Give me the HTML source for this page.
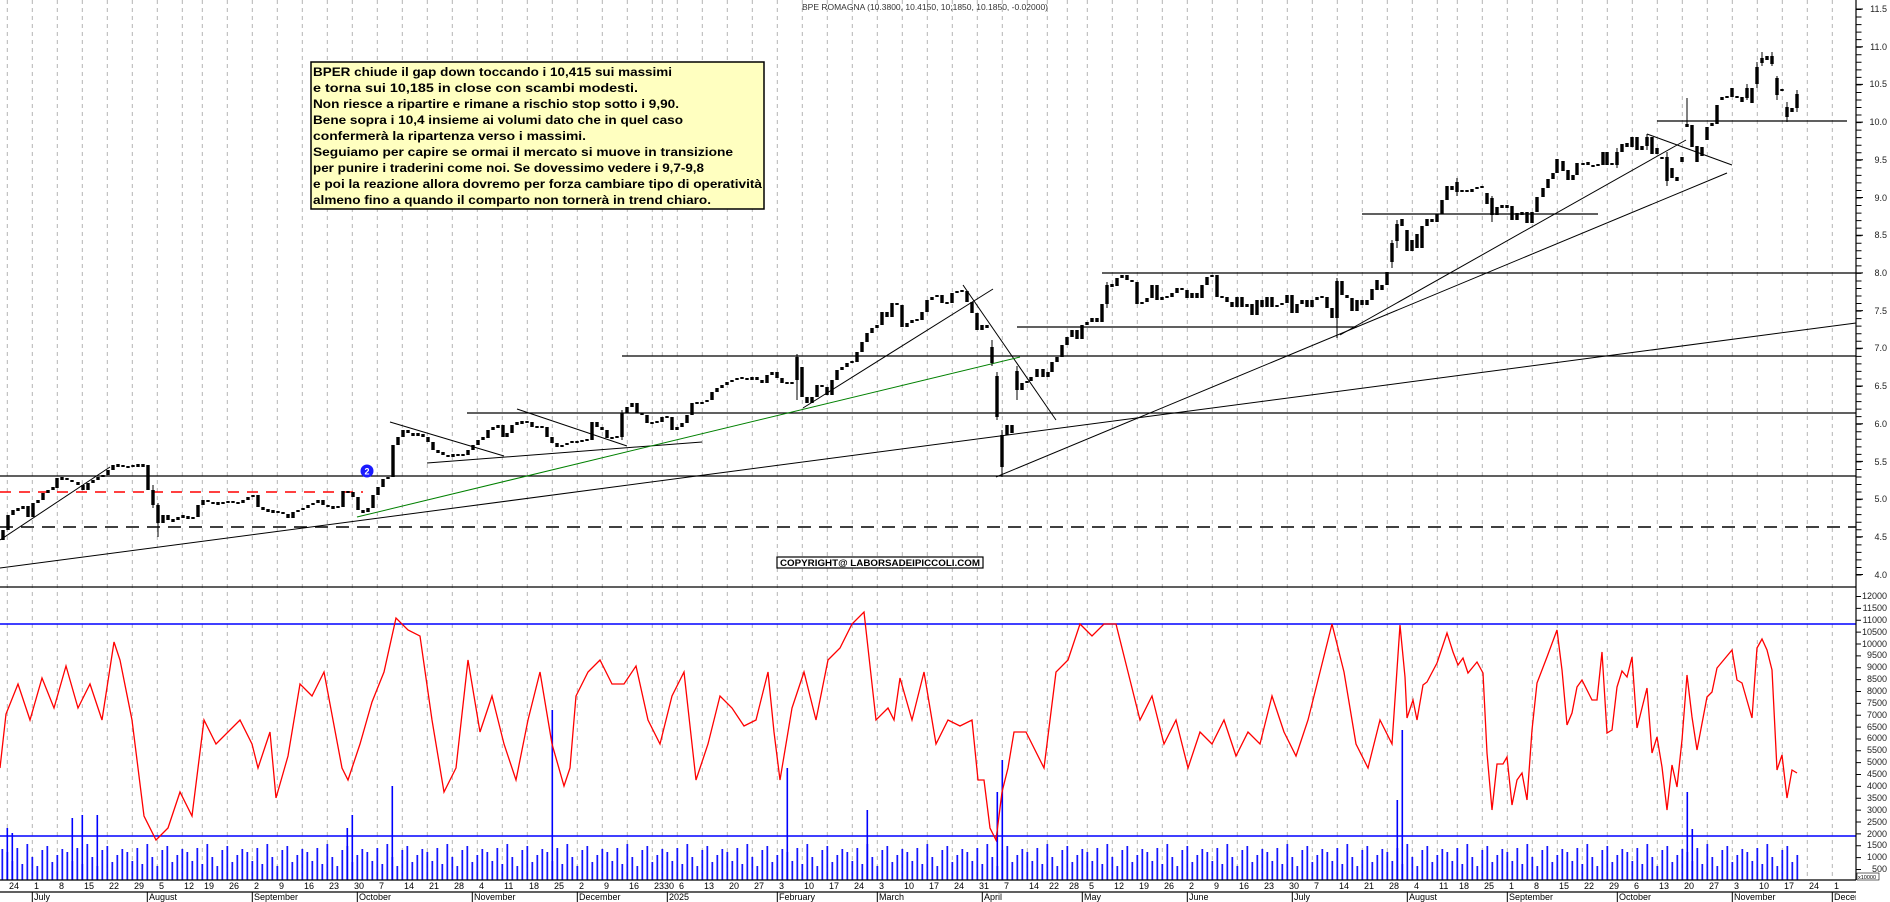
<!DOCTYPE html>
<html><head><meta charset="utf-8">
<style>
body{margin:0;background:#fff}
svg{display:block}
text{font-family:"Liberation Sans",Arial,sans-serif}
</style></head>
<body>
<svg width="1890" height="902" xmlns="http://www.w3.org/2000/svg" xmlns:xlink="http://www.w3.org/1999/xlink">
<defs>
<path id="gp" d="M7.3 0V880M32.3 0V880M57.3 0V880M82.3 0V880M107.3 0V880M132.3 0V880M157.3 0V880M182.3 0V880M202.3 0V880M227.3 0V880M252.3 0V880M277.3 0V880M302.3 0V880M327.3 0V880M352.3 0V880M377.3 0V880M402.3 0V880M427.3 0V880M452.3 0V880M477.3 0V880M502.3 0V880M527.3 0V880M552.3 0V880M577.3 0V880M602.3 0V880M627.3 0V880M652.3 0V880M662.3 0V880M677.3 0V880M702.3 0V880M727.3 0V880M752.3 0V880M777.3 0V880M802.3 0V880M827.3 0V880M852.3 0V880M877.3 0V880M902.3 0V880M927.3 0V880M952.3 0V880M977.3 0V880M1002.3 0V880M1027.3 0V880M1047.3 0V880M1067.3 0V880M1087.3 0V880M1112.3 0V880M1137.3 0V880M1162.3 0V880M1187.3 0V880M1212.3 0V880M1237.3 0V880M1262.3 0V880M1287.3 0V880M1312.3 0V880M1337.3 0V880M1362.3 0V880M1387.3 0V880M1412.3 0V880M1437.3 0V880M1457.3 0V880M1482.3 0V880M1507.3 0V880M1532.3 0V880M1557.3 0V880M1582.3 0V880M1607.3 0V880M1632.3 0V880M1657.3 0V880M1682.3 0V880M1707.3 0V880M1732.3 0V880M1757.3 0V880M1782.3 0V880M1807.3 0V880M1832.3 0V880"/>
<pattern id="vp" patternUnits="userSpaceOnUse" x="6.3" y="580" width="60" height="300">
<path d="M1 300V272M6 300V281M11 300V268M16 300V284M21 300V264M26 300V277M31 300V286M36 300V270M41 300V266M46 300V282M51 300V275M56 300V269" stroke="#0000ff" stroke-width="1.6"/>
</pattern>
<clipPath id="tc"><rect x="0" y="880" width="1856" height="6"/></clipPath>
</defs>
<rect width="1890" height="902" fill="#fff"/>
<use xlink:href="#gp" stroke="#b4b4b4" stroke-width="1" stroke-dasharray="4,4"/>

<g stroke="#000" stroke-width="1.3" fill="none">
<line x1="0" y1="476" x2="1856" y2="476"/>
<line x1="0" y1="527" x2="1856" y2="527" stroke-dasharray="13,8" stroke-width="1.5"/>
<line x1="467" y1="413" x2="1856" y2="413"/>
<line x1="622" y1="356" x2="1856" y2="356"/>
<line x1="1017" y1="327" x2="1357" y2="327"/>
<line x1="1102" y1="273" x2="1856" y2="273"/>
<line x1="1362" y1="214" x2="1598" y2="214"/>
<line x1="1657" y1="121" x2="1847" y2="121"/>
<line x1="0" y1="587" x2="1856" y2="587"/>
</g>
<line x1="0" y1="492" x2="363" y2="492" stroke="#ff0000" stroke-width="1.5" stroke-dasharray="11,8"/>
<g stroke="#000" stroke-width="1" fill="none">
<line x1="0" y1="568" x2="1856" y2="323"/>
<line x1="0" y1="540" x2="110" y2="467"/>
<line x1="390" y1="422" x2="504" y2="456"/>
<line x1="427" y1="463" x2="702" y2="442"/>
<line x1="517" y1="409" x2="627" y2="446"/>
<line x1="803" y1="408" x2="993" y2="289"/>
<line x1="963" y1="285" x2="1056" y2="420"/>
<line x1="996" y1="477" x2="1727" y2="173"/>
<line x1="1340" y1="335" x2="1686" y2="140"/>
<line x1="1647" y1="134" x2="1732" y2="165"/>
</g>
<line x1="357" y1="517" x2="1020" y2="357" stroke="#008000" stroke-width="1"/>

<rect x="0" y="580" width="1799" height="300" fill="url(#vp)"/>
<path d="M7.3 880V828M12.3 880V833M72.3 880V818M82.3 880V815M97.3 880V815M392.3 880V786M552.3 880V710M787.3 880V768M867.3 880V810M997.3 880V792M1002.3 880V760M1397.3 880V800M1402.3 880V730M1687.3 880V792M1692.3 880V829M347.3 880V828M352.3 880V815" stroke="#0000ff" stroke-width="1.6"/>
<line x1="0" y1="624" x2="1856" y2="624" stroke="#0000ff" stroke-width="1.5"/>
<line x1="0" y1="836" x2="1856" y2="836" stroke="#0000ff" stroke-width="1.5"/>

<polyline fill="none" stroke="#ff0000" stroke-width="1.3" points="0,768 6,714 18,684 30,720 42,678 54,708 66,666 78,708 90,684 102,720 114,642 120,660 132,720 144,816 156,840 168,828 180,792 192,816 204,720 216,744 240,720 252,744 258,768 270,732 276,798 288,756 300,684 312,696 324,672 342,768 348,780 360,744 372,702 384,672 396,618 408,630 420,636 432,720 444,792 456,768 468,660 480,732 492,696 504,744 516,780 528,720 540,672 552,744 564,786 570,768 576,696 588,672 600,660 612,684 624,684 636,666 648,720 660,744 672,696 684,672 696,780 708,744 720,696 732,708 744,726 756,720 768,672 774,732 780,780 792,708 804,672 816,720 828,660 840,648 852,624 864,612 876,720 888,708 894,720 900,678 912,720 924,672 936,744 948,720 960,726 972,720 978,780 984,780 990,828 996,840 1002,792 1008,768 1014,732 1026,732 1044,768 1056,672 1068,660 1080,624 1092,636 1104,624 1116,624 1128,672 1140,720 1152,696 1164,744 1176,720 1188,768 1200,732 1212,744 1224,720 1236,756 1248,732 1260,744 1272,696 1284,732 1296,756 1308,720 1320,672 1332,624 1344,672 1356,744 1368,768 1380,720 1392,744 1400,625 1405,677 1407,718 1413,700 1417,720 1423,685 1427,682 1437,663 1447,633 1453,652 1458,665 1463,658 1468,673 1477,662 1483,673 1487,753 1492,810 1497,764 1503,764 1507,757 1512,805 1517,780 1522,773 1527,800 1532,730 1537,683 1547,657 1557,630 1562,670 1567,725 1572,713 1577,687 1582,680 1592,700 1597,700 1602,652 1607,733 1612,730 1617,687 1622,671 1627,677 1632,657 1637,728 1647,688 1652,753 1657,737 1662,767 1667,810 1672,765 1677,787 1682,740 1687,675 1692,717 1697,750 1707,697 1712,692 1717,668 1732,650 1737,680 1742,683 1752,718 1757,648 1762,639 1767,650 1772,670 1777,770 1782,755 1787,798 1792,770 1797,773"/>

<path fill="none" stroke="#000" stroke-width="3.4" d="M3 540V530M8 530V515M13 515V510M18 508V511M23 509V506M28 506V517M33 517V503M38 503V500M43 500V493M48 493V490M53 490V487M57 488V478M62 477V480M67 478V480M72 480V482M78 482V485M83 485V490M88 490V483M93 483V480M98 480V477M103 477V475M108 475V470M113 470V465M118 464V467M123 465V467M128 466V468M133 467V465M138 464V467M143 464V467M148 465V490M153 490V505M158 505V523M163 523V515M168 515V520M173 519V522M178 520V517M183 515V518M188 516V519M193 519V517M198 517V505M203 505V500M208 500V502M213 502V504M218 502V505M223 502V504M228 503V501M233 501V503M238 502V504M243 503V500M248 500V497M253 497V495M258 495V507M263 507V510M268 509V512M273 510V513M278 513V511M283 512V514M288 514V518M293 518V512M298 512V510M303 510V508M308 508V505M313 505V503M318 503V500M323 500V505M328 505V507M333 506V509M338 508V506M343 507V491M348 491V493M353 492V497M358 497V510M363 510V513M368 512V508M373 508V495M378 495V487M383 487V479M388 479V477M393 477V445M398 445V437M403 437V430M408 430V433M413 433V436M418 436V433M423 434V437M428 437V442M433 442V450M438 450V453M443 452V455M448 455V457M453 457V454M458 454V456M463 454V456M468 455V450M473 450V445M478 445V440M483 440V437M488 438V430M493 430V427M498 428V425
M503 425V437M507 437V433M512 433V425M517 425V422M522 421V424M527 423V421M532 422V427M537 426V428M542 426V428M547 427V437M552 437V443M557 443V447M562 447V445M567 445V443M572 443V441M577 441V443M582 442V440M587 439V441M592 440V422M597 422V427M602 427V430M607 430V438M612 437V439M617 438V436M622 437V413M627 413V407M632 407V403M637 403V413M642 413V415M647 415V423M652 422V424M657 423V421M662 422V417M667 416V418M672 417V430M677 430V427M682 427V423M687 423V415M692 415V403M697 402V404M702 404V402M707 402V400M712 400V392M717 392V388M722 388V385M727 385V382M732 382V380M737 380V378M742 377V379M747 378V380M752 380V377M757 377V380M762 380V383M767 383V375M772 375V372M777 372V378M782 378V383M787 382V384M792 384V382M797 380V357M802 367V397M807 397V403M812 403V397M817 397V385M822 385V387M827 387V395M832 395V380M837 380V370M842 370V367M847 367V363M852 363V361M857 362V352M862 352V342M867 342V333M872 333V328M877 328V325M882 325V312M887 312V317M892 317V303M897 303V305M902 305V327M907 327V323M912 323V320M917 319V321M922 320V312M927 312V300M932 300V297M937 297V295M942 295V303M947 302V304M952 303V293M957 293V291M962 290V292M967 291V302M972 302V313M977 313V330M982 330V325M987 325V328M992 347V363M997 376V417M1002 467V435M1007 435V425M1012 425V433
M1017 371V390M1022 390V383M1027 383V381M1031 381V377M1037 377V369M1043 369V377M1048 377V372M1052 372V362M1057 362V357M1062 357V345M1067 345V337M1072 337V330M1077 330V339M1082 339V325M1087 325V322M1092 322V318M1097 318V322M1102 322V304M1107 304V285M1112 284V287M1117 286V278M1122 278V275M1127 275V280M1132 280V282M1137 282V304M1142 304V302M1147 302V298M1152 298V285M1157 285V300M1162 300V297M1167 296V298M1172 297V293M1177 293V288M1182 288V290M1187 290V298M1192 298V293M1197 293V298M1202 298V285M1207 285V277M1212 277V275M1217 275V297M1222 296V298M1227 297V302M1232 302V307M1237 307V297M1242 297V307M1247 307V304M1252 304V315M1257 315V300M1262 300V307M1267 307V297M1272 297V307M1277 307V305M1282 305V303M1287 303V295M1292 295V313M1297 313V304M1302 304V300M1307 300V307M1312 307V300M1317 300V297M1322 296V298M1327 297V308M1332 308V318M1337 318V281M1342 281V295M1347 295V298M1352 298V311M1357 311V300M1362 300V305M1367 305V300M1372 300V289M1377 280V290M1382 290V285M1387 285V272M1392 262V243M1397 241V224M1402 219V226M1407 230V251M1412 251V240M1417 234V248M1422 248V226M1427 226V219M1432 219V222M1437 222V214M1442 214V200M1447 200V186M1452 186V190M1457 182V192M1462 192V190M1467 190V192M1472 192V189M1477 189V187M1482 186V188M1487 193V204M1492 198V215M1497 215V207M1502 205V208M1507 205V208M1512 206V220M1517 220V213M1522 212V215M1527 212V223M1532 223V212M1537 212V197
M1543 197V188M1548 188V179M1553 179V173M1557 173V159M1563 161V171M1568 170V180M1573 180V175M1577 175V163M1583 163V165M1588 162V165M1593 165V167M1598 164V166M1603 165V152M1607 152V165M1612 165V163M1617 165V152M1622 152V144M1627 143V147M1632 147V137M1637 137V150M1642 150V146M1647 146V137M1652 137V154M1657 154V148M1662 157V159M1667 157V181M1672 178V168M1677 177V181M1682 162V157M1687 127V124M1692 125V147M1697 146V162M1702 156V147M1707 140V127M1712 126V123M1717 124V105M1722 100V97M1727 98V96M1732 97V88M1737 96V98M1742 97V102M1747 88V98M1752 88V103M1757 84V67M1762 63V58M1767 56V60M1772 56V64M1777 78V95M1782 89V91M1787 107V117M1792 112V108M1797 94V108"/>
<path fill="none" stroke="#000" stroke-width="1" d="M1337 338V278M1002 477V430M1687 98V127M992 340V366M997 372V420M1017 366V400M797 354V400M1392 268V240M1397 248V220M1457 178V196M1492 196V222M1667 152V186M1757 88V62M1762 66V52M1772 52V66M1777 76V100M1787 102V122M1797 90V112M153 485V508M158 503V537M622 440V410M1107 308V282M1747 84V100M1617 168V148M1647 150V134"/>

<circle cx="367" cy="471" r="6.5" fill="#1a1aff"/>
<text x="367" y="474.5" font-size="9" font-weight="bold" fill="#fff" text-anchor="middle">2</text>

<g stroke="#000" stroke-width="1.2">
<line x1="1856" y1="0" x2="1856" y2="880"/>
<line x1="0" y1="880" x2="1856" y2="880"/>
<line x1="0" y1="892" x2="1856" y2="892"/>
</g>
<use xlink:href="#gp" transform="translate(0,6)" clip-path="url(#tc)" stroke="#000" stroke-width="1"/>
<path stroke="#000" stroke-width="1" d="M32.3 892V902M147.3 892V902M252.3 892V902M357.3 892V902M472.3 892V902M577.3 892V902M667.3 892V902M777.3 892V902M877.3 892V902M982.3 892V902M1082.3 892V902M1187.3 892V902M1292.3 892V902M1407.3 892V902M1507.3 892V902M1617.3 892V902M1732.3 892V902M1832.3 892V902"/>
<line x1="1859" y1="9" x2="1859" y2="576" stroke="#000" stroke-width="5" stroke-dasharray="1 6.54"/>
<path stroke="#000" stroke-width="1" d="M1856 9H1863M1856 46.7H1863M1856 84.4H1863M1856 122.1H1863M1856 159.8H1863M1856 197.5H1863M1856 235.2H1863M1856 272.9H1863M1856 310.6H1863M1856 348.3H1863M1856 386H1863M1856 423.7H1863M1856 461.4H1863M1856 499.1H1863M1856 536.8H1863M1856 574.5H1863"/>
<line x1="1858.5" y1="596" x2="1858.5" y2="870" stroke="#000" stroke-width="5" stroke-dasharray="1 10.87"/>

<text x="925" y="10" font-size="8" fill="#333" text-anchor="middle" textLength="246" lengthAdjust="spacingAndGlyphs">BPE ROMAGNA (10.3800, 10.4150, 10;1850, 10.1850, -0.02000)</text>

<rect x="311" y="62" width="453" height="147" fill="#ffffc0" stroke="#000" stroke-width="1.5"/>
<g font-size="12" font-weight="bold" fill="#000">
<text x="313" y="76" textLength="359" lengthAdjust="spacingAndGlyphs">BPER chiude il gap down toccando i 10,415 sui massimi</text>
<text x="313" y="92" textLength="325" lengthAdjust="spacingAndGlyphs">e torna sui 10,185 in close con scambi modesti.</text>
<text x="313" y="108" textLength="366" lengthAdjust="spacingAndGlyphs">Non riesce a ripartire e rimane a rischio stop sotto i 9,90.</text>
<text x="313" y="124" textLength="370" lengthAdjust="spacingAndGlyphs">Bene sopra i 10,4 insieme ai volumi dato che in quel caso</text>
<text x="313" y="140" textLength="273" lengthAdjust="spacingAndGlyphs">confermerà la ripartenza verso i massimi.</text>
<text x="313" y="156" textLength="420" lengthAdjust="spacingAndGlyphs">Seguiamo  per capire se ormai il mercato si muove in transizione</text>
<text x="313" y="172" textLength="391" lengthAdjust="spacingAndGlyphs">per punire i traderini come noi. Se dovessimo vedere i 9,7-9,8</text>
<text x="313" y="188" textLength="449" lengthAdjust="spacingAndGlyphs">e poi la reazione allora dovremo per forza cambiare tipo di operatività</text>
<text x="313" y="204" textLength="398" lengthAdjust="spacingAndGlyphs">almeno fino a quando il comparto non tornerà in trend chiaro.</text>
</g>

<rect x="777" y="557" width="206" height="11" fill="#fff" stroke="#000" stroke-width="1.2"/>
<text x="780" y="566" font-size="9" font-weight="bold" textLength="200" lengthAdjust="spacingAndGlyphs">COPYRIGHT@ LABORSADEIPICCOLI.COM</text>

<g font-size="9" fill="#222" text-anchor="end">
<text x="1887" y="12">11.5</text><text x="1887" y="50">11.0</text><text x="1887" y="87">10.5</text><text x="1887" y="125">10.0</text>
<text x="1887" y="163">9.5</text><text x="1887" y="201">9.0</text><text x="1887" y="238">8.5</text><text x="1887" y="276">8.0</text>
<text x="1887" y="314">7.5</text><text x="1887" y="351">7.0</text><text x="1887" y="389">6.5</text><text x="1887" y="427">6.0</text>
<text x="1887" y="465">5.5</text><text x="1887" y="502">5.0</text><text x="1887" y="540">4.5</text><text x="1887" y="578">4.0</text>
<text x="1887" y="599">12000</text><text x="1887" y="611">11500</text><text x="1887" y="623">11000</text><text x="1887" y="635">10500</text>
<text x="1887" y="647">10000</text><text x="1887" y="658">9500</text><text x="1887" y="670">9000</text><text x="1887" y="682">8500</text>
<text x="1887" y="694">8000</text><text x="1887" y="706">7500</text><text x="1887" y="718">7000</text><text x="1887" y="730">6500</text>
<text x="1887" y="741">6000</text><text x="1887" y="753">5500</text><text x="1887" y="765">5000</text><text x="1887" y="777">4500</text>
<text x="1887" y="789">4000</text><text x="1887" y="801">3500</text><text x="1887" y="813">3000</text><text x="1887" y="825">2500</text>
<text x="1887" y="837">2000</text><text x="1887" y="848">1500</text><text x="1887" y="860">1000</text><text x="1887" y="872">500</text>
</g>
<rect x="1857" y="873" width="22" height="7" fill="#fff" stroke="#000" stroke-width="0.6"/>
<text x="1858" y="879" font-size="5.5" fill="#000">x10000</text>

<g font-size="9" fill="#000">
<text x="9" y="889">24</text><text x="34" y="889">1</text><text x="59" y="889">8</text><text x="84" y="889">15</text><text x="109" y="889">22</text><text x="134" y="889">29</text>
<text x="159" y="889">5</text><text x="184" y="889">12</text><text x="204" y="889">19</text><text x="229" y="889">26</text><text x="254" y="889">2</text><text x="279" y="889">9</text>
<text x="304" y="889">16</text><text x="329" y="889">23</text><text x="354" y="889">30</text><text x="379" y="889">7</text><text x="404" y="889">14</text><text x="429" y="889">21</text>
<text x="454" y="889">28</text><text x="479" y="889">4</text><text x="504" y="889">11</text><text x="529" y="889">18</text><text x="554" y="889">25</text><text x="579" y="889">2</text>
<text x="604" y="889">9</text><text x="629" y="889">16</text><text x="654" y="889">23</text><text x="664" y="889">30</text><text x="679" y="889">6</text><text x="704" y="889">13</text>
<text x="729" y="889">20</text><text x="754" y="889">27</text><text x="779" y="889">3</text><text x="804" y="889">10</text><text x="829" y="889">17</text><text x="854" y="889">24</text>
<text x="879" y="889">3</text><text x="904" y="889">10</text><text x="929" y="889">17</text><text x="954" y="889">24</text><text x="979" y="889">31</text><text x="1004" y="889">7</text>
<text x="1029" y="889">14</text><text x="1049" y="889">22</text><text x="1069" y="889">28</text><text x="1089" y="889">5</text><text x="1114" y="889">12</text><text x="1139" y="889">19</text>
<text x="1164" y="889">26</text><text x="1189" y="889">2</text><text x="1214" y="889">9</text><text x="1239" y="889">16</text><text x="1264" y="889">23</text><text x="1289" y="889">30</text>
<text x="1314" y="889">7</text><text x="1339" y="889">14</text><text x="1364" y="889">21</text><text x="1389" y="889">28</text><text x="1414" y="889">4</text><text x="1439" y="889">11</text>
<text x="1459" y="889">18</text><text x="1484" y="889">25</text><text x="1509" y="889">1</text><text x="1534" y="889">8</text><text x="1559" y="889">15</text><text x="1584" y="889">22</text>
<text x="1609" y="889">29</text><text x="1634" y="889">6</text><text x="1659" y="889">13</text><text x="1684" y="889">20</text><text x="1709" y="889">27</text><text x="1734" y="889">3</text>
<text x="1759" y="889">10</text><text x="1784" y="889">17</text><text x="1809" y="889">24</text><text x="1834" y="889">1</text>
</g>
<svg x="0" y="892" width="1856" height="10" overflow="hidden">
<g font-size="9" fill="#000">
<text x="34" y="8">July</text><text x="149" y="8">August</text><text x="254" y="8">September</text><text x="359" y="8">October</text>
<text x="474" y="8">November</text><text x="579" y="8">December</text><text x="669" y="8">2025</text><text x="779" y="8">February</text>
<text x="879" y="8">March</text><text x="984" y="8">April</text><text x="1084" y="8">May</text><text x="1189" y="8">June</text>
<text x="1294" y="8">July</text><text x="1409" y="8">August</text><text x="1509" y="8">September</text><text x="1619" y="8">October</text>
<text x="1734" y="8">November</text><text x="1834" y="8">December</text>
</g>
</svg>
</svg>
</body></html>
